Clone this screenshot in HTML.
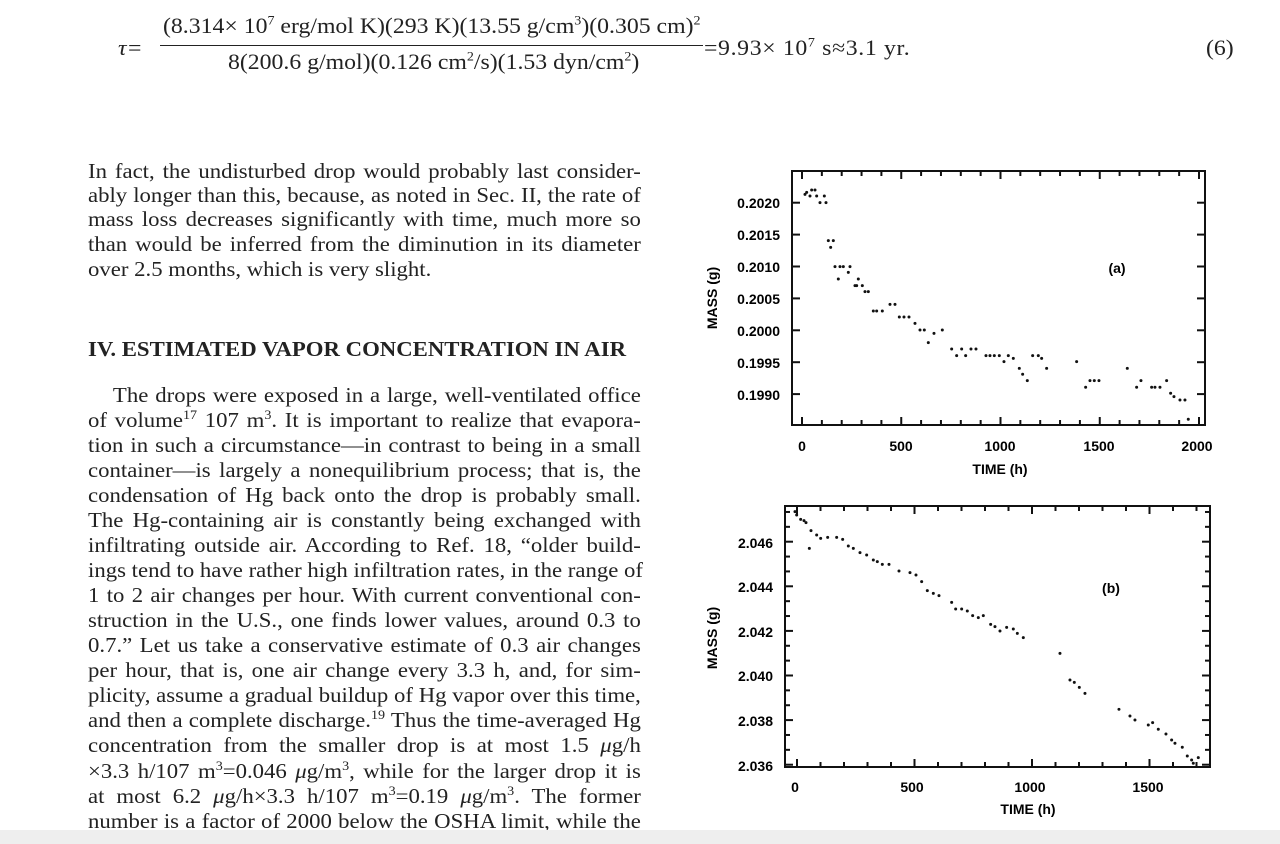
<!DOCTYPE html>
<html><head><meta charset="utf-8"><style>
body{margin:0;width:1280px;height:844px;background:#fff;overflow:hidden;position:relative;font-family:"Liberation Serif",serif;color:#222}
.a{position:absolute;white-space:nowrap}
.eq{font-size:22px;transform:scaleX(1.08);transform-origin:left top}
.l{position:absolute;left:88px;width:510px;font-size:21px;text-align:justify;text-align-last:justify;white-space:nowrap;line-height:24px;transform:scaleX(1.084);transform-origin:left top}
.l.n{text-align-last:left}
sup{font-size:13px;line-height:0}
</style></head><body>
<div class="a eq" style="left:118px;top:35px;font-style:italic">τ=</div>
<div class="a eq" style="left:163px;top:13px">(8.314× 10<sup>7</sup> erg/mol K)(293 K)(13.55 g/cm<sup>3</sup>)(0.305 cm)<sup>2</sup></div>
<div class="a" style="left:160px;top:45px;width:543px;height:1.3px;background:#222"></div>
<div class="a eq" style="left:228px;top:49px">8(200.6 g/mol)(0.126 cm<sup>2</sup>/s)(1.53 dyn/cm<sup>2</sup>)</div>
<div class="a eq" style="left:704px;top:35px;letter-spacing:0.6px">=9.93× 10<sup>7</sup> s≈3.1 yr.</div>
<div class="a eq" style="left:1206px;top:35px">(6)</div>

<div class="l" style="top:159px">In fact, the undisturbed drop would probably last consider-</div>
<div class="l" style="top:183px">ably longer than this, because, as noted in Sec. II, the rate of</div>
<div class="l" style="top:207px">mass loss decreases significantly with time, much more so</div>
<div class="l" style="top:232px">than would be inferred from the diminution in its diameter</div>
<div class="l n" style="top:257px">over 2.5 months, which is very slight.</div>
<div class="l n" style="top:337px;font-weight:bold">IV. ESTIMATED VAPOR CONCENTRATION IN AIR</div>
<div class="l" style="top:383px;padding-left:23px;width:487px">The drops were exposed in a large, well-ventilated office</div>
<div class="l" style="top:408px">of volume<sup>17</sup> 107 m<sup>3</sup>. It is important to realize that evapora-</div>
<div class="l" style="top:433px">tion in such a circumstance—in contrast to being in a small</div>
<div class="l" style="top:458px">container—is largely a nonequilibrium process; that is, the</div>
<div class="l" style="top:483px">condensation of Hg back onto the drop is probably small.</div>
<div class="l" style="top:508px">The Hg-containing air is constantly being exchanged with</div>
<div class="l" style="top:533px">infiltrating outside air. According to Ref. 18, “older build-</div>
<div class="l" style="top:558px">ings tend to have rather high infiltration rates, in the range of</div>
<div class="l" style="top:583px">1 to 2 air changes per hour. With current conventional con-</div>
<div class="l" style="top:608px">struction in the U.S., one finds lower values, around 0.3 to</div>
<div class="l" style="top:633px">0.7.” Let us take a conservative estimate of 0.3 air changes</div>
<div class="l" style="top:658px">per hour, that is, one air change every 3.3 h, and, for sim-</div>
<div class="l" style="top:683px">plicity, assume a gradual buildup of Hg vapor over this time,</div>
<div class="l" style="top:708px">and then a complete discharge.<sup>19</sup> Thus the time-averaged Hg</div>
<div class="l" style="top:733px">concentration from the smaller drop is at most 1.5 <i>μ</i>g/h</div>
<div class="l" style="top:759px">×3.3 h/107 m<sup>3</sup>=0.046 <i>μ</i>g/m<sup>3</sup>, while for the larger drop it is</div>
<div class="l" style="top:784px">at most 6.2 <i>μ</i>g/h×3.3 h/107 m<sup>3</sup>=0.19 <i>μ</i>g/m<sup>3</sup>. The former</div>
<div class="l" style="top:809px">number is a factor of 2000 below the OSHA limit, while the</div>

<svg class="a" style="left:0;top:0" width="1280" height="844" font-family="Liberation Sans,sans-serif" font-weight="bold" font-size="14">
<g id="A">
<rect x="792" y="171" width="413" height="254" fill="none" stroke="#111" stroke-width="2"/>
<g stroke="#111" stroke-width="2" id="atk"></g>
<g text-anchor="end">
<text x="780" y="208">0.2020</text><text x="780" y="240">0.2015</text><text x="780" y="272">0.2010</text><text x="780" y="304">0.2005</text><text x="780" y="336">0.2000</text><text x="780" y="368">0.1995</text><text x="780" y="400">0.1990</text></g>
<g text-anchor="middle">
<text x="802" y="451">0</text><text x="901" y="451">500</text><text x="1000" y="451">1000</text><text x="1099" y="451">1500</text><text x="1197" y="451">2000</text>
<text x="1000" y="474">TIME (h)</text>
<text x="1117" y="273">(a)</text>
<text transform="translate(717,298) rotate(-90)">MASS (g)</text></g>
</g>
<g id="B">
<rect x="785" y="506" width="425" height="261" fill="none" stroke="#111" stroke-width="2"/>
<g stroke="#111" stroke-width="2" id="btk"></g>
<g text-anchor="end">
<text x="773" y="548">2.046</text><text x="773" y="592">2.044</text><text x="773" y="637">2.042</text><text x="773" y="681">2.040</text><text x="773" y="726">2.038</text><text x="773" y="771">2.036</text></g>
<g text-anchor="middle">
<text x="795" y="792">0</text><text x="912" y="792">500</text><text x="1030" y="792">1000</text><text x="1148" y="792">1500</text>
<text x="1028" y="814">TIME (h)</text>
<text x="1111" y="593">(b)</text>
<text transform="translate(717,638) rotate(-90)">MASS (g)</text></g>
</g>
<g id="pa" transform="translate(780,160) scale(0.3333)" fill="#111"></g>
<g id="pb" transform="translate(780,500) scale(0.3333)" fill="#111"></g>
<rect x="0" y="830" width="1280" height="14" fill="#eee"/>
</svg>
<script>
var ns="http://www.w3.org/2000/svg";
function L(g,x1,y1,x2,y2){var e=document.createElementNS(ns,"line");e.setAttribute("x1",x1);e.setAttribute("y1",y1);e.setAttribute("x2",x2);e.setAttribute("y2",y2);g.appendChild(e);}
var ga=document.getElementById("atk");
for(var i=0;i<=20;i++){var x=802+i*19.85,l=i%5==0?8:5;L(ga,x,171,x,171+l);L(ga,x,425,x,425-l);}
for(var i=0;i<7;i++){var y=202.7+i*31.9;L(ga,792,y,800,y);L(ga,1205,y,1197,y);}
var gb=document.getElementById("btk");
for(var i=0;i<=17;i++){var x=797+i*23.5,l=i%5==0?8:5;L(gb,x,506,x,506+l);L(gb,x,767,x,767-l);}
for(var i=-3;i<=16;i++){var y=541.7+i*44.6/3;if(y<507||y>766)continue;var l=(i%3==0)?8:5;L(gb,785,y,785+l,y);L(gb,1210,y,1210-l,y);}
function P(id,a){var g=document.getElementById(id);for(var i=0;i<a.length;i+=2){var c=document.createElementNS(ns,"circle");c.setAttribute("cx",a[i]);c.setAttribute("cy",a[i+1]);c.setAttribute("r",4.5);g.appendChild(c);}}
P("pa",[75,103,80,97,90,108,95,90,105,90,110,108,120,128,133,108,138,128,145,242,160,242,152,262,165,320,180,320,190,320,175,357,210,320,205,337,225,377,235,357,230,377,247,377,255,395,265,395,280,453,290,453,307,453,330,433,345,433,358,471,372,471,387,471,405,490,420,510,433,510,445,548,462,520,487,510,515,567,530,587,545,567,557,587,573,567,588,567,618,587,630,587,643,587,658,587,672,605,685,587,700,595,718,625,728,643,742,662,758,587,775,587,785,595,800,625,890,605,917,682,930,662,943,662,957,662,1042,625,1070,682,1083,662,1115,682,1125,682,1140,682,1160,662,1172,700,1182,710,1200,720,1215,720,1225,778]);
P("pb",[45,35,50,45,62,58,72,62,78,68,88,145,93,92,110,105,122,115,143,112,170,112,188,118,205,138,220,145,240,158,260,165,280,180,292,185,307,193,327,193,357,213,390,218,408,225,425,245,442,272,460,280,477,287,515,307,527,327,545,327,562,333,578,347,595,353,610,347,632,373,645,380,660,393,680,382,700,387,712,400,730,413,840,460,870,540,883,547,898,562,915,580,1017,628,1050,648,1065,660,1105,675,1118,668,1135,688,1158,702,1175,720,1185,730,1207,742,1222,768,1235,780,1240,790,1255,773]);
</script>
</body></html>
